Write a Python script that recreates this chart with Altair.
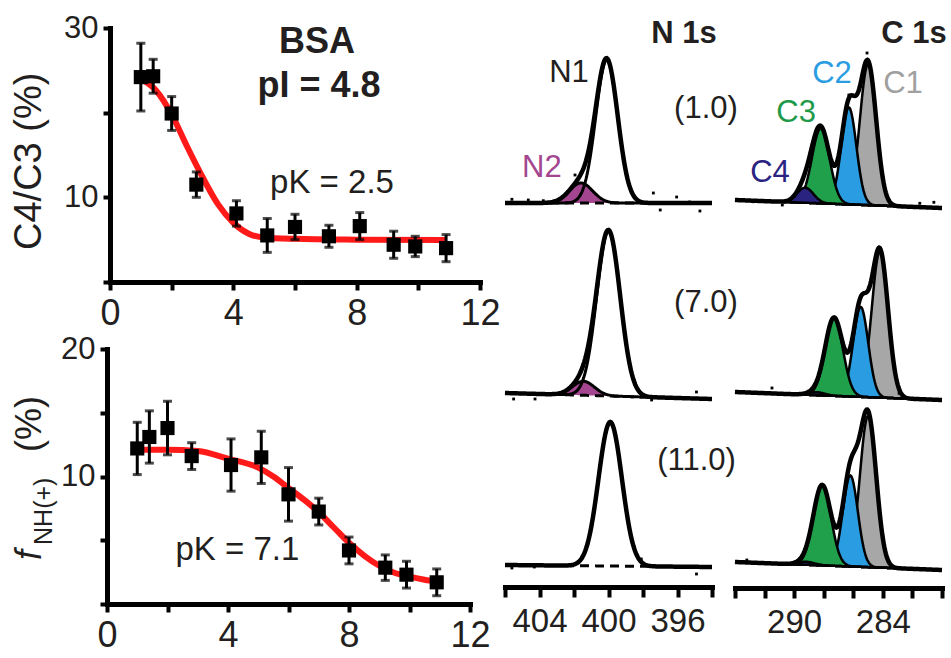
import numpy as np
import pandas as pd
import altair as alt

W, H = 951, 658
FONT = "Liberation Sans"
INK = "#231f20"
RED = "#ff1a1a"
PURPLE = "#a3468f"
GREEN = "#21a04b"
BLUE = "#2a9de2"
GREY = "#a7a7a7"
NAVY = "#2a2380"

# ---------------- C4/C3 ratio vs pH (top left) ----------------
ph_a = [1.0, 1.4, 2.0, 2.8, 4.1, 5.1, 6.0, 7.1, 8.1, 9.2, 9.9, 10.9]
ratio_a = [24.2, 24.3, 19.9, 11.5, 8.1, 5.5, 6.5, 5.4, 6.6, 4.4, 4.2, 4.0]
err_a = [4.0, 2.0, 2.0, 1.5, 1.5, 2.0, 1.5, 1.3, 1.6, 1.6, 1.2, 1.6]
fit_ph_a = [1.05, 1.5, 2.0, 2.5, 3.0, 3.5, 4.0, 4.5, 5.0, 6.0, 8.0, 10.9]
fit_val_a = [23.9, 22.6, 19.8, 16.0, 12.4, 9.2, 7.0, 5.7, 5.25, 5.1, 5.0, 4.95]

# ---------------- f_NH(+) vs pH (bottom left) ----------------
ph_b = [1.0, 1.4, 2.0, 2.8, 4.1, 5.1, 6.0, 7.0, 8.0, 9.2, 9.9, 10.9]
fnh_b = [12.2, 13.1, 13.8, 11.6, 10.9, 11.5, 8.6, 7.25, 4.2, 2.85, 2.3, 1.7]
err_b = [2.05, 2.05, 2.1, 1.05, 2.05, 2.05, 2.1, 1.05, 1.05, 1.0, 1.05, 1.05]
fit_ph_b = [1.1, 2.0, 3.0, 4.0, 5.0, 5.5, 6.0, 6.5, 7.0, 7.5, 8.0, 8.5, 9.0, 9.5, 10.0, 10.5, 10.9]
fit_val_b = [12.1, 12.1, 12.0, 11.4, 10.7, 10.0, 9.1, 8.2, 7.2, 6.0, 4.8, 3.8, 3.0, 2.45, 2.15, 1.9, 1.75]

# ---------------- XPS spectra (fitted components, a.u.) ----------------
row_ph = ["(1.0)", "(7.0)", "(11.0)"]
row_ref = [203, 394, 566]          # intensity 0 of each row
n1_c = [400.1, 400.0, 399.9]
n1_h = [143, 165, 144]
n1_w = [1.5, 1.6, 1.6]
n2_c = [401.6, 401.45, 401.5]
n2_h = [20, 14, 0]
n2_w = [1.6, 1.5, 1.5]
nbg_l = [0, 1, 1]      # background at 406 eV
nbg_r = [0, -5, -1]    # background at 394 eV

c_names = ["C1", "C2", "C3", "C4"]
c_colors = [GREY, BLUE, GREEN, NAVY]
c_center = {"C1": [285.0, 284.2, 285.0], "C2": [286.3, 285.5, 286.2],
            "C3": [288.2, 287.3, 288.1], "C4": [289.25, 288.5, 289.2]}
c_height = {"C1": [141, 146, 151], "C2": [97, 90, 91],
            "C3": [75, 78, 80], "C4": [15, 3, 3]}
c_fwhm = {"C1": 1.3, "C2": 1.2, "C3": 1.4, "C4": 1.3}
cbg_l = [3, 2, 4]      # background at 294 eV
cbg_r = [-5, -6, -4]   # background at 280 eV

n_dots = [
    [(405.6, 3.7), (404.65, 3), (403.78, 2.3), (403.2, 1.7), (401.94, 28), (397.4, 10),
     (397.0, -7), (396.05, 6), (395.3, 1), (394.7, -8)],
    [(405.5, -5), (404.26, -5), (398.46, 11), (397.5, -6), (394.9, 2)],
    [(405.6, -2), (404.3, -1), (401.2, 22), (398.1, 7), (394.9, -8)],
]
c_dots = [
    [(285.07, 150), (286.3, 108), (292.76, 1.3), (290.8, -2), (281.5, -0.3), (280.55, 0.7)],
    [(284.96, 106), (291.5, 6), (282.9, 0.7)],
    [(286.3, 99), (293.2, 6)],
]

eN = np.round(np.linspace(406, 394, 241), 3)
eC = np.round(np.linspace(294, 280, 281), 3)


def gauss(e, c, h, w):
    return h * np.exp(-4 * np.log(2) * (e - c) ** 2 / w ** 2)


def bg_line(e, e_l, e_r, b_l, b_r):
    return b_l + (b_r - b_l) * (e_l - e) / (e_l - e_r)


def x_axis(offset, values, expr, fs, tick, pad):
    return alt.Axis(orient="bottom", offset=offset, values=values, labelExpr=expr, title=None,
                    grid=False, domainWidth=5, domainColor="black", domainCap="square",
                    tickWidth=4, tickSize=tick, tickColor="black", labelFont=FONT,
                    labelFontSize=fs, labelColor=INK, labelPadding=pad, labelFlush=False,
                    labelOverlap=False, labelBound=False)


def y_axis(offset, values, expr):
    return alt.Axis(orient="left", offset=offset, values=values, labelExpr=expr, title=None,
                    grid=False, domainWidth=5, domainColor="black", domainCap="square",
                    tickWidth=4, tickSize=7, tickColor="black", labelFont=FONT,
                    labelFontSize=31, labelColor=INK, labelPadding=5, labelFlush=False,
                    labelOverlap=False, labelBound=False)


def text_layer(df, enc_x, enc_y, **kw):
    base = dict(font=FONT, color=INK)
    base.update(kw)
    return alt.Chart(df).mark_text(**base).encode(x=enc_x("x"), y=enc_y("y"), text="t:N")


# ---------------- titration panel builder ----------------
def titration(ph, val, err, fph, fval, sx, sy, axx, axy, texts):
    X = lambda f: alt.X(f, type="quantitative", scale=sx, axis=axx)
    Y = lambda f: alt.Y(f, type="quantitative", scale=sy, axis=axy)
    pts = pd.DataFrame({"ph": ph, "v": val,
                        "lo": [v - e for v, e in zip(val, err)],
                        "hi": [v + e for v, e in zip(val, err)]})
    fit = pd.DataFrame({"ph": fph, "v": fval})
    layers = [
        alt.Chart(fit).mark_line(color=RED, strokeWidth=6, interpolate="monotone").encode(x=X("ph"), y=Y("v")),
        alt.Chart(pts).mark_rule(color="black", strokeWidth=3).encode(x=X("ph"), y=Y("lo"), y2="hi"),
        alt.Chart(pts).mark_tick(color="black", thickness=3, size=9, orient="horizontal").encode(x=X("ph"), y=Y("lo")),
        alt.Chart(pts).mark_tick(color="black", thickness=3, size=9, orient="horizontal").encode(x=X("ph"), y=Y("hi")),
        alt.Chart(pts).mark_square(color="black", size=200, opacity=1).encode(x=X("ph"), y=Y("v")),
    ]
    for df, kw in texts:
        layers.append(text_layer(df, X, Y, **kw))
    return alt.layer(*layers)


sxA = alt.Scale(domain=[0, 12], range=[110, 480], nice=False, zero=False)
syA = alt.Scale(domain=[0, 30], range=[282, 28], nice=False, zero=False)
axAx = x_axis(282 - H, list(range(0, 13, 2)), "datum.value % 4 == 0 ? datum.label : ''", 36, 8, 6)
axAy = y_axis(-110, [0, 10, 20, 30], "datum.value == 10 || datum.value == 30 ? datum.label : ''")
textsA = [
    (pd.DataFrame({"x": [6.71, 6.78], "y": [27.05, 21.85], "t": ["BSA", "pI = 4.8"]}),
     dict(fontSize=36, fontWeight="bold", align="center", baseline="alphabetic")),
    (pd.DataFrame({"x": [7.2], "y": [10.5], "t": ["pK = 2.5"]}),
     dict(fontSize=33, align="center", baseline="alphabetic")),
    (pd.DataFrame({"x": [-2.24], "y": [3.78], "t": ["C4/C3 (%)"]}),
     dict(fontSize=38, angle=270, align="left", baseline="alphabetic")),
]
panelA = titration(ph_a, ratio_a, err_a, fit_ph_a, fit_val_a, sxA, syA, axAx, axAy, textsA)

sxB = alt.Scale(domain=[0, 12], range=[107, 470], nice=False, zero=False)
syB = alt.Scale(domain=[0, 20], range=[604, 349], nice=False, zero=False)
axBx = x_axis(604 - H, list(range(0, 13, 2)), "datum.value % 4 == 0 ? datum.label : ''", 36, 8, 6)
axBy = y_axis(-107, [0, 5, 10, 15, 20], "datum.value == 10 || datum.value == 20 ? datum.label : ''")
textsB = [
    (pd.DataFrame({"x": [4.31], "y": [3.45], "t": ["pK = 7.1"]}),
     dict(fontSize=33, align="center", baseline="alphabetic")),
    (pd.DataFrame({"x": [-2.18], "y": [3.45], "t": ["f"]}),
     dict(fontSize=36, fontStyle="italic", angle=270, align="left", baseline="alphabetic")),
    (pd.DataFrame({"x": [-1.82], "y": [4.63], "t": ["NH(+)"]}),
     dict(fontSize=25, angle=270, align="left", baseline="alphabetic")),
    (pd.DataFrame({"x": [-2.18], "y": [11.92], "t": ["(%)"]}),
     dict(fontSize=36, angle=270, align="left", baseline="alphabetic")),
]
panelB = titration(ph_b, fnh_b, err_b, fit_ph_b, fit_val_b, sxB, syB, axBx, axBy, textsB)


# ---------------- spectra ----------------
def row_y_scale(r):
    ref = row_ref[r]
    return alt.Scale(domain=[-30, 170], range=[ref + 30, ref - 170], nice=False, zero=False)


def n_spectrum(r, texts):
    sx = alt.Scale(domain=[406, 394], range=[505, 712], nice=False, zero=False)
    axx = x_axis(587 - H, list(range(394, 407, 2)), "datum.value % 4 == 0 ? datum.label : ''", 33, 10, 8) if r == 2 else None
    X = lambda f: alt.X(f, type="quantitative", scale=sx, axis=axx)
    Y = lambda f: alt.Y(f, type="quantitative", scale=row_y_scale(r), axis=None)
    bg = bg_line(eN, 406, 394, nbg_l[r], nbg_r[r])
    g1 = gauss(eN, n1_c[r], n1_h[r], n1_w[r])
    g2 = gauss(eN, n2_c[r], n2_h[r], n2_w[r])
    df = pd.DataFrame({"E": eN, "bg": bg, "n1": bg + g1, "n2": bg + g2, "env": bg + g1 + g2})
    layers = []
    if n2_h[r] > 0:
        layers.append(alt.Chart(df).mark_area(color=PURPLE, opacity=1).encode(x=X("E"), y=Y("n2"), y2="bg"))
    layers.append(alt.Chart(df).mark_line(color="black", strokeWidth=3, strokeDash=[9, 6]).encode(x=X("E"), y=Y("bg")))
    if n2_h[r] > 0:
        layers.append(alt.Chart(df).mark_line(color="black", strokeWidth=3).encode(x=X("E"), y=Y("n2")))
    layers.append(alt.Chart(df).mark_line(color="black", strokeWidth=3).encode(x=X("E"), y=Y("n1")))
    layers.append(alt.Chart(df).mark_line(color="black", strokeWidth=4.5).encode(x=X("E"), y=Y("env")))
    dots = pd.DataFrame(n_dots[r], columns=["E", "I"])
    layers.append(alt.Chart(dots).mark_square(color="black", size=8, opacity=1).encode(x=X("E"), y=Y("I")))
    for d, kw in texts:
        layers.append(text_layer(d, X, Y, **kw))
    return alt.layer(*layers)


def c_spectrum(r, texts):
    sx = alt.Scale(domain=[294, 280], range=[735, 942], nice=False, zero=False)
    axx = x_axis(588 - H, list(range(280, 295, 2)), "datum.value == 290 || datum.value == 284 ? datum.label : ''", 33, 10, 8) if r == 2 else None
    X = lambda f: alt.X(f, type="quantitative", scale=sx, axis=axx)
    Y = lambda f: alt.Y(f, type="quantitative", scale=row_y_scale(r), axis=None)
    bg = bg_line(eC, 294, 280, cbg_l[r], cbg_r[r])
    cols = {"E": eC, "bg": bg}
    env = bg.copy()
    for n in c_names:
        g = gauss(eC, c_center[n][r], c_height[n][r], c_fwhm[n])
        cols[n] = bg + g
        env = env + g
    cols["env"] = env
    df = pd.DataFrame(cols)
    layers = []
    for n, col in zip(c_names, c_colors):
        layers.append(alt.Chart(df).mark_area(color=col, opacity=1, stroke="black", strokeWidth=2.5)
                      .encode(x=X("E"), y=Y(n), y2="bg"))
    layers.append(alt.Chart(df).mark_line(color="black", strokeWidth=4.5).encode(x=X("E"), y=Y("env")))
    dots = pd.DataFrame(c_dots[r], columns=["E", "I"])
    layers.append(alt.Chart(dots).mark_square(color="black", size=8, opacity=1).encode(x=X("E"), y=Y("I")))
    for d, kw in texts:
        layers.append(text_layer(d, X, Y, **kw))
    return alt.layer(*layers)


lab = dict(fontSize=31, align="center", baseline="alphabetic")
n_texts = [
    [(pd.DataFrame({"x": [395.62], "y": [160], "t": ["N 1s"]}), dict(fontSize=31, fontWeight="bold", align="center", baseline="alphabetic")),
     (pd.DataFrame({"x": [402.29], "y": [121], "t": ["N1"]}), lab),
     (pd.DataFrame({"x": [403.86], "y": [26], "t": ["N2"]}), dict(lab, color=PURPLE)),
     (pd.DataFrame({"x": [394.35], "y": [85], "t": [row_ph[0]]}), lab)],
    [(pd.DataFrame({"x": [394.35], "y": [82], "t": [row_ph[1]]}), lab)],
    [(pd.DataFrame({"x": [394.9], "y": [96], "t": [row_ph[2]]}), lab)],
]
c_texts = [
    [(pd.DataFrame({"x": [281.89], "y": [160], "t": ["C 1s"]}), dict(fontSize=31, fontWeight="bold", align="center", baseline="alphabetic")),
     (pd.DataFrame({"x": [287.44], "y": [120], "t": ["C2"]}), dict(lab, color=BLUE)),
     (pd.DataFrame({"x": [282.64], "y": [110], "t": ["C1"]}), dict(lab, color="#a0a0a0")),
     (pd.DataFrame({"x": [289.87], "y": [81], "t": ["C3"]}), dict(lab, color="#1e9a4a")),
     (pd.DataFrame({"x": [291.63], "y": [21], "t": ["C4"]}), dict(lab, color=NAVY))],
    [],
    [],
]

panels = [panelA, panelB]
for r in range(3):
    panels.append(n_spectrum(r, n_texts[r]))
for r in range(3):
    panels.append(c_spectrum(r, c_texts[r]))

chart = (
    alt.layer(*panels)
    .resolve_scale(x="independent", y="independent")
    .resolve_axis(x="independent", y="independent")
    .properties(width=W, height=H, autosize=alt.AutoSizeParams(type="none"), padding=0, background="white")
    .configure_view(stroke=None)
)

chart.save("out.html", embed_options={"renderer": "svg", "actions": False})
